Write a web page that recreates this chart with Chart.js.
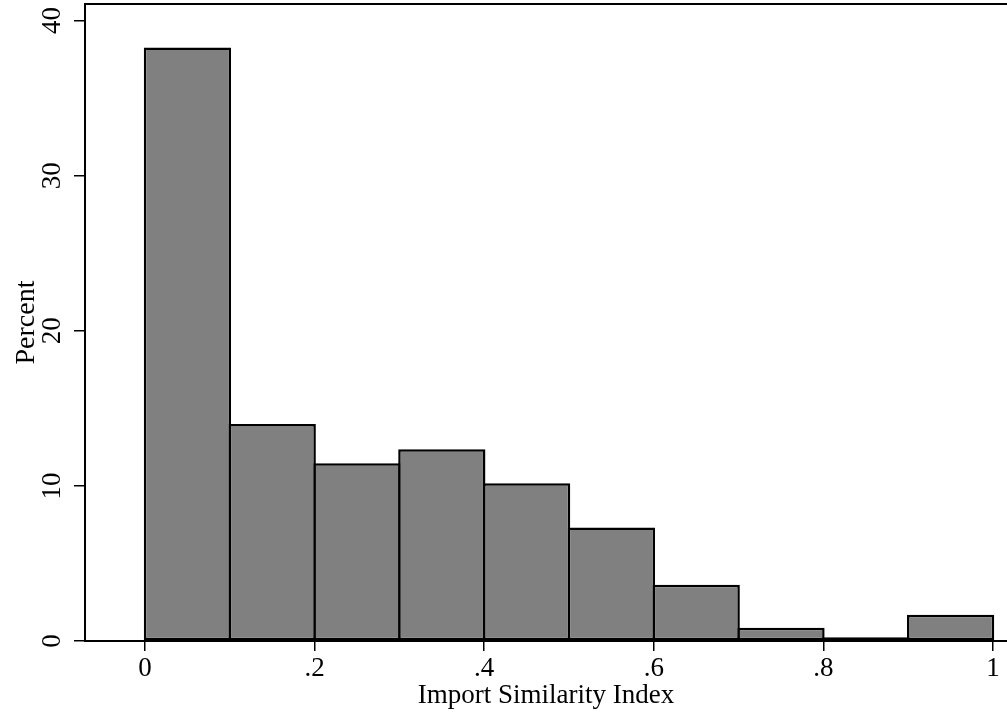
<!DOCTYPE html>
<html lang="en">
<head>
  <meta charset="UTF-8" />
  <title>Import Similarity Index - Histogram</title>
  <script src="https://cdn.jsdelivr.net/npm/chart.js"></script>
  <style>
    html, body { margin: 0; padding: 0; background: #fff; }
    #wrap { width: 1007px; height: 719px; }
  </style>
</head>
<body>

<div id="wrap">
  <canvas id="histChart" width="1007" height="719"></canvas>
</div>

<script>
// bin left edges (width 0.1) and percent in each bin
const binStarts = [0, 0.1, 0.2, 0.3, 0.4, 0.5, 0.6, 0.7, 0.8, 0.9];
const percents = [38.27, 13.99, 11.46, 12.36, 10.17, 7.31, 3.63, 0.86, 0.24, 1.70];
const xTickLabels = ['0', '.2', '.4', '.6', '.8', '1'];
const yTickLabels = ['0', '10', '20', '30', '40'];

const serif = "'Liberation Serif', 'DejaVu Serif', serif";

const points = binStarts.map((s, i) => ({ x: s + 0.05, y: percents[i] }));

// no extra room for overhanging tick labels, the plot box is fixed
const noPad = s => { s.paddingTop = 0; s.paddingBottom = 0; s.paddingLeft = 0; s.paddingRight = 0; };

const ctx = document.getElementById('histChart').getContext('2d');
new Chart(ctx, {
  type: 'bar',
  data: {
    datasets: [{
      label: 'Percent',
      data: points,
      backgroundColor: '#808080',
      borderColor: '#000',
      borderWidth: 2.5,
      borderSkipped: false,
      barPercentage: 1.029,   // bars overlap a hair so shared edges look like one line
      categoryPercentage: 1
    }]
  },
  options: {
    responsive: false,
    animation: false,
    layout: { padding: 0 },
    plugins: {
      legend: { display: false },
      tooltip: { enabled: false }
    },
    scales: {
      x: {
        type: 'linear',
        position: 'bottom',
        min: -0.0708,
        max: 1.0165,
        offset: false,
        afterFit: s => { s.height = 78; noPad(s); },
        border: { display: true, color: '#000', width: 2 },
        grid: { display: true, drawOnChartArea: false, drawTicks: true, tickLength: 10, color: '#000', lineWidth: 1.5, offset: false },
        ticks: {
          stepSize: 0.2,
          includeBounds: false,
          autoSkip: false,
          maxRotation: 0,
          padding: 2,
          color: '#000',
          font: { family: serif, size: 27 },
          callback: v => xTickLabels[Math.round(v * 5)]
        },
        title: {
          display: true,
          text: 'Import Similarity Index',
          color: '#000',
          font: { family: serif, size: 27 },
          padding: { top: 0, bottom: 7 }
        }
      },
      xTop: {
        type: 'linear',
        position: 'top',
        min: 0,
        max: 1,
        afterFit: s => { s.height = 4; noPad(s); },
        border: { display: true, color: '#000', width: 2 },
        grid: { display: false },
        ticks: { display: false }
      },
      y: {
        type: 'linear',
        position: 'left',
        min: 0,
        max: 41.07,
        afterFit: s => { s.width = 85; noPad(s); },
        border: { display: true, color: '#000', width: 2 },
        grid: { display: true, drawOnChartArea: false, drawTicks: true, tickLength: 11, color: '#000', lineWidth: 1.5 },
        ticks: {
          stepSize: 10,
          includeBounds: false,
          minRotation: 90,
          maxRotation: 90,
          crossAlign: 'center',
          padding: 7.5,
          color: '#000',
          font: { family: serif, size: 27 },
          callback: v => yTickLabels[Math.round(v / 10)]
        },
        title: {
          display: true,
          text: 'Percent',
          color: '#000',
          font: { family: serif, size: 28 },
          padding: { top: 10, bottom: 0 }
        }
      }
    }
  }
});
</script>

</body>
</html>
